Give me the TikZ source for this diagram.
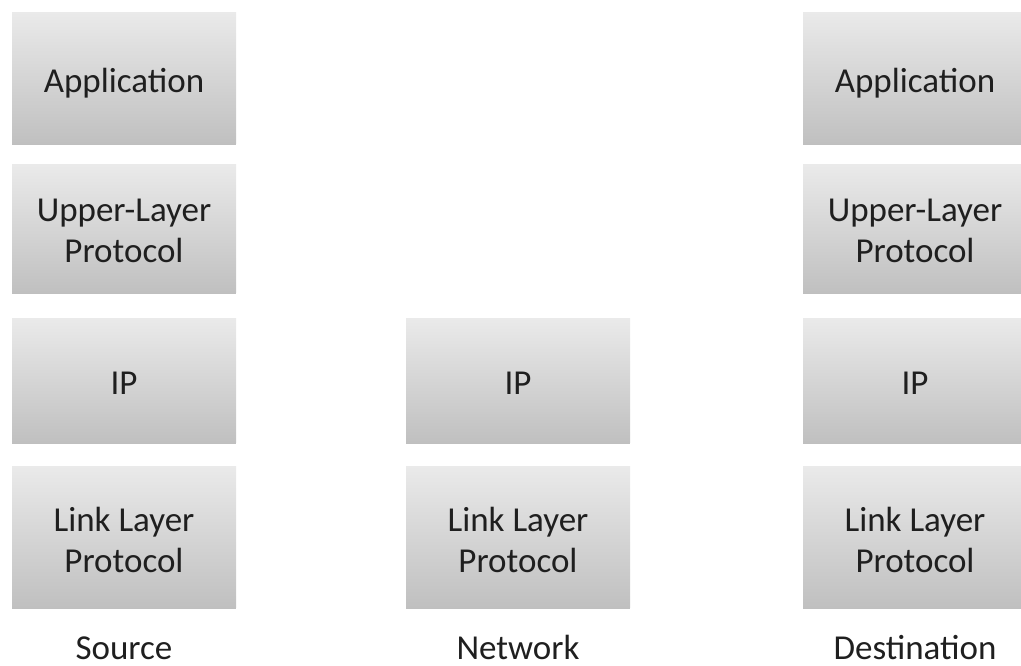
\documentclass[tikz,border=0pt]{standalone}
\usepackage{fontspec}
\setmainfont{Carlito}
\usetikzlibrary{shadows}
\definecolor{boxtop}{RGB}{234,234,234}
\definecolor{boxbot}{RGB}{192,192,192}
\newcommand{\twolines}[2]{{\setlength{\tabcolsep}{0pt}\begin{tabular}[t]{c}#1\\#2\end{tabular}}}
\begin{document}
\begin{tikzpicture}[x=1pt,y=-1pt,
  layer/.style={rectangle, minimum width=224pt, minimum height=#1, inner sep=0pt,
    top color=boxtop, bottom color=boxbot, draw=none,
    drop shadow={shadow xshift=0pt, shadow yshift=-1.5pt, opacity=0.25, fill=black}},
  layer/.default=128pt,
  txt/.style={anchor=base, inner sep=0pt, font=\fontsize{35}{41}\selectfont, text=black!88}]
\useasboundingbox (0,0) rectangle (1021,665);
% source column
\node[layer=131pt] (sapp) at (124,77.5) {};
\node[layer] (sulp) at (124,228.5) {};
\node[layer=124pt] (sip) at (124,380) {};
\node[layer=141pt] (slink) at (124,536.5) {};
% network column
\node[layer=124pt] (nip) at (518,380) {};
\node[layer=141pt] (nlink) at (518,536.5) {};
% destination column
\node[layer=131pt] (dapp) at (915,77.5) {};
\node[layer] (dulp) at (915,228.5) {};
\node[layer=124pt] (dip) at (915,380) {};
\node[layer=141pt] (dlink) at (915,536.5) {};
% texts in boxes
\node[txt] (tsapp) at ([yshift=-15pt]sapp.center) {Application};
\node[txt] (tsulp) at ([yshift=7.5pt]sulp.center) {\twolines{Upper-Layer}{Protocol}};
\node[txt] (tsip) at ([yshift=-14pt]sip.center) {IP};
\node[txt] (tslink) at ([yshift=5.5pt]slink.center) {\twolines{Link Layer}{Protocol}};
\node[txt] (tnip) at ([yshift=-14pt]nip.center) {IP};
\node[txt] (tnlink) at ([yshift=5.5pt]nlink.center) {\twolines{Link Layer}{Protocol}};
\node[txt] (tdapp) at ([yshift=-15pt]dapp.center) {Application};
\node[txt] (tdulp) at ([yshift=7.5pt]dulp.center) {\twolines{Upper-Layer}{Protocol}};
\node[txt] (tdip) at ([yshift=-14pt]dip.center) {IP};
\node[txt] (tdlink) at ([yshift=5.5pt]dlink.center) {\twolines{Link Layer}{Protocol}};
% labels
\node[txt] (src) at (124,659) {Source};
\node[txt] (net) at (518,659) {Network};
\node[txt] (dst) at (915,659) {Destination};
\end{tikzpicture}
\end{document}
